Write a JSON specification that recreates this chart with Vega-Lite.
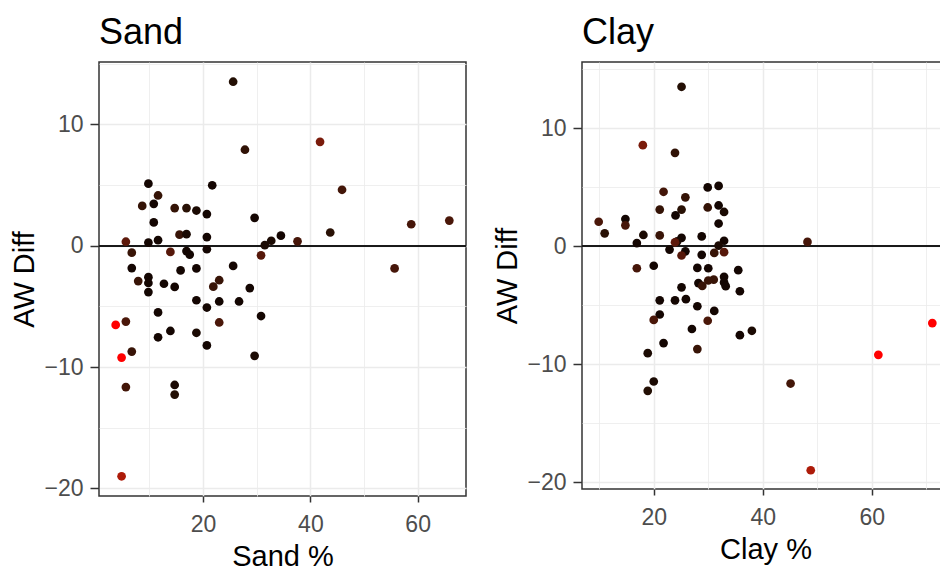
{
  "$schema": "https://vega.github.io/schema/vega-lite/v6.json",
  "padding": {"left": 10, "top": 14, "right": 0, "bottom": 0},
  "spacing": 25,
  "align": "none",
  "data": {"values": [
    {"Sand": 25.6, "Clay": 25.1, "AWDiff": 13.5, "Shade": 0.12},
    {"Sand": 41.8, "Clay": 18.0, "AWDiff": 8.55, "Shade": 0.5},
    {"Sand": 27.8, "Clay": 23.9, "AWDiff": 7.9, "Shade": 0.18},
    {"Sand": 9.8, "Clay": 31.9, "AWDiff": 5.1, "Shade": 0.05},
    {"Sand": 21.7, "Clay": 29.9, "AWDiff": 4.97, "Shade": 0.05},
    {"Sand": 45.9, "Clay": 21.8, "AWDiff": 4.6, "Shade": 0.27},
    {"Sand": 11.6, "Clay": 25.8, "AWDiff": 4.13, "Shade": 0.2},
    {"Sand": 10.8, "Clay": 31.9, "AWDiff": 3.44, "Shade": 0.05},
    {"Sand": 8.65, "Clay": 29.9, "AWDiff": 3.27, "Shade": 0.2},
    {"Sand": 14.7, "Clay": 21.1, "AWDiff": 3.09, "Shade": 0.2},
    {"Sand": 16.9, "Clay": 25.1, "AWDiff": 3.09, "Shade": 0.15},
    {"Sand": 18.75, "Clay": 32.9, "AWDiff": 2.89, "Shade": 0.08},
    {"Sand": 20.7, "Clay": 24.0, "AWDiff": 2.6, "Shade": 0.05},
    {"Sand": 29.6, "Clay": 14.8, "AWDiff": 2.29, "Shade": 0.05},
    {"Sand": 65.9, "Clay": 9.9, "AWDiff": 2.06, "Shade": 0.3},
    {"Sand": 10.8, "Clay": 31.9, "AWDiff": 1.91, "Shade": 0.05},
    {"Sand": 58.8, "Clay": 14.8, "AWDiff": 1.76, "Shade": 0.28},
    {"Sand": 43.7, "Clay": 11.0, "AWDiff": 1.08, "Shade": 0.15},
    {"Sand": 15.6, "Clay": 21.1, "AWDiff": 0.9, "Shade": 0.22},
    {"Sand": 16.9, "Clay": 18.1, "AWDiff": 0.94, "Shade": 0.08},
    {"Sand": 34.5, "Clay": 28.8, "AWDiff": 0.82, "Shade": 0.05},
    {"Sand": 20.7, "Clay": 25.1, "AWDiff": 0.7, "Shade": 0.05},
    {"Sand": 11.6, "Clay": 32.9, "AWDiff": 0.45, "Shade": 0.05},
    {"Sand": 32.7, "Clay": 24.3, "AWDiff": 0.4, "Shade": 0.08},
    {"Sand": 5.6, "Clay": 23.9, "AWDiff": 0.32, "Shade": 0.38},
    {"Sand": 37.6, "Clay": 48.2, "AWDiff": 0.35, "Shade": 0.28},
    {"Sand": 9.8, "Clay": 16.9, "AWDiff": 0.25, "Shade": 0.05},
    {"Sand": 31.5, "Clay": 31.9, "AWDiff": 0.04, "Shade": 0.08},
    {"Sand": 20.7, "Clay": 22.9, "AWDiff": -0.3, "Shade": 0.05},
    {"Sand": 16.9, "Clay": 25.8, "AWDiff": -0.45, "Shade": 0.05},
    {"Sand": 13.9, "Clay": 32.9, "AWDiff": -0.52, "Shade": 0.35},
    {"Sand": 6.7, "Clay": 31.1, "AWDiff": -0.58, "Shade": 0.22},
    {"Sand": 30.8, "Clay": 25.1, "AWDiff": -0.8, "Shade": 0.35},
    {"Sand": 17.5, "Clay": 28.8, "AWDiff": -0.74, "Shade": 0.05},
    {"Sand": 25.6, "Clay": 20.0, "AWDiff": -1.67, "Shade": 0.05},
    {"Sand": 6.7, "Clay": 28.0, "AWDiff": -1.85, "Shade": 0.05},
    {"Sand": 18.75, "Clay": 30.0, "AWDiff": -1.88, "Shade": 0.05},
    {"Sand": 55.7, "Clay": 16.9, "AWDiff": -1.88, "Shade": 0.28},
    {"Sand": 15.8, "Clay": 35.5, "AWDiff": -2.04, "Shade": 0.05},
    {"Sand": 9.8, "Clay": 32.9, "AWDiff": -2.6, "Shade": 0.05},
    {"Sand": 23.0, "Clay": 31.0, "AWDiff": -2.85, "Shade": 0.22},
    {"Sand": 7.9, "Clay": 30.0, "AWDiff": -2.92, "Shade": 0.22},
    {"Sand": 9.8, "Clay": 32.9, "AWDiff": -3.08, "Shade": 0.05},
    {"Sand": 12.7, "Clay": 28.2, "AWDiff": -3.14, "Shade": 0.05},
    {"Sand": 21.9, "Clay": 28.9, "AWDiff": -3.38, "Shade": 0.22},
    {"Sand": 28.7, "Clay": 25.1, "AWDiff": -3.5, "Shade": 0.05},
    {"Sand": 14.7, "Clay": 33.2, "AWDiff": -3.4, "Shade": 0.05},
    {"Sand": 9.8, "Clay": 35.8, "AWDiff": -3.83, "Shade": 0.05},
    {"Sand": 18.75, "Clay": 25.9, "AWDiff": -4.5, "Shade": 0.05},
    {"Sand": 23.0, "Clay": 21.1, "AWDiff": -4.6, "Shade": 0.05},
    {"Sand": 26.7, "Clay": 23.9, "AWDiff": -4.6, "Shade": 0.05},
    {"Sand": 20.7, "Clay": 28.0, "AWDiff": -5.1, "Shade": 0.05},
    {"Sand": 11.6, "Clay": 31.1, "AWDiff": -5.5, "Shade": 0.05},
    {"Sand": 30.8, "Clay": 21.1, "AWDiff": -5.8, "Shade": 0.05},
    {"Sand": 5.6, "Clay": 20.0, "AWDiff": -6.26, "Shade": 0.3},
    {"Sand": 23.0, "Clay": 29.9, "AWDiff": -6.33, "Shade": 0.3},
    {"Sand": 3.7, "Clay": 71.1, "AWDiff": -6.53, "Shade": 1.0},
    {"Sand": 13.9, "Clay": 27.0, "AWDiff": -7.03, "Shade": 0.05},
    {"Sand": 18.75, "Clay": 38.0, "AWDiff": -7.18, "Shade": 0.08},
    {"Sand": 11.6, "Clay": 35.8, "AWDiff": -7.55, "Shade": 0.05},
    {"Sand": 20.7, "Clay": 21.8, "AWDiff": -8.22, "Shade": 0.05},
    {"Sand": 6.7, "Clay": 28.0, "AWDiff": -8.73, "Shade": 0.22},
    {"Sand": 29.6, "Clay": 18.9, "AWDiff": -9.08, "Shade": 0.08},
    {"Sand": 4.8, "Clay": 61.2, "AWDiff": -9.22, "Shade": 1.0},
    {"Sand": 14.7, "Clay": 20.0, "AWDiff": -11.48, "Shade": 0.08},
    {"Sand": 5.6, "Clay": 45.1, "AWDiff": -11.65, "Shade": 0.27},
    {"Sand": 14.7, "Clay": 18.9, "AWDiff": -12.27, "Shade": 0.12},
    {"Sand": 4.8, "Clay": 48.8, "AWDiff": -19.0, "Shade": 0.7}
  ]},
  "hconcat": [
    {
      "width": 367,
      "height": 434,
      "title": {"text": "Sand", "offset": 10, "frame": "group"},
      "layer": [
        {
          "mark": {"type": "rule", "color": "#1a1a1a", "strokeWidth": 1.3},
          "encoding": {"y": {"datum": 0, "type": "quantitative"}}
        },
        {
          "mark": {"type": "circle", "size": 76, "opacity": 1},
          "encoding": {
            "x": {
              "field": "Sand", "type": "quantitative",
              "scale": {"domain": [0.59, 69.01], "nice": false, "zero": false},
              "axis": {
                "title": "Sand %",
                "grid": true,
                "values": [10, 20, 30, 40, 50, 60],
                "labelExpr": "datum.value % 20 == 0 ? datum.label : ''",
                "tickOpacity": {"condition": {"test": "datum.value % 20 != 0", "value": 0}, "value": 1},
                "gridWidth": {"condition": {"test": "datum.value % 20 != 0", "value": 0.8}, "value": 1.5}
              }
            },
            "y": {
              "field": "AWDiff", "type": "quantitative",
              "scale": {"domain": [-20.625, 15.125], "nice": false, "zero": false},
              "axis": {
                "title": "AW Diff",
                "grid": true,
                "values": [-20, -15, -10, -5, 0, 5, 10, 15],
                "labelExpr": "datum.value % 10 == 0 ? datum.label : ''",
                "tickOpacity": {"condition": {"test": "datum.value % 10 != 0", "value": 0}, "value": 1},
                "gridWidth": {"condition": {"test": "datum.value % 10 != 0", "value": 0.8}, "value": 1.5}
              }
            },
            "color": {
              "field": "Shade", "type": "quantitative",
              "scale": {"domain": [0, 1], "range": ["#000000", "#ff0000"], "interpolate": "lab"},
              "legend": null
            }
          }
        }
      ]
    },
    {
      "width": 367,
      "height": 427,
      "title": {"text": "Clay", "offset": 10, "frame": "group"},
      "layer": [
        {
          "mark": {"type": "rule", "color": "#1a1a1a", "strokeWidth": 1.3},
          "encoding": {"y": {"datum": 0, "type": "quantitative"}}
        },
        {
          "mark": {"type": "circle", "size": 76, "opacity": 1},
          "encoding": {
            "x": {
              "field": "Clay", "type": "quantitative",
              "scale": {"domain": [6.84, 74.16], "nice": false, "zero": false},
              "axis": {
                "title": "Clay %",
                "grid": true,
                "values": [10, 20, 30, 40, 50, 60, 70],
                "labelExpr": "datum.value % 20 == 0 ? datum.label : ''",
                "tickOpacity": {"condition": {"test": "datum.value % 20 != 0", "value": 0}, "value": 1},
                "gridWidth": {"condition": {"test": "datum.value % 20 != 0", "value": 0.8}, "value": 1.5}
              }
            },
            "y": {
              "field": "AWDiff", "type": "quantitative",
              "scale": {"domain": [-20.59, 15.6], "nice": false, "zero": false},
              "axis": {
                "title": "AW Diff",
                "grid": true,
                "values": [-20, -15, -10, -5, 0, 5, 10, 15],
                "labelExpr": "datum.value % 10 == 0 ? datum.label : ''",
                "tickOpacity": {"condition": {"test": "datum.value % 10 != 0", "value": 0}, "value": 1},
                "gridWidth": {"condition": {"test": "datum.value % 10 != 0", "value": 0.8}, "value": 1.5}
              }
            },
            "color": {
              "field": "Shade", "type": "quantitative",
              "scale": {"domain": [0, 1], "range": ["#000000", "#ff0000"], "interpolate": "lab"},
              "legend": null
            }
          }
        }
      ]
    }
  ],
  "resolve": {"scale": {"color": "shared"}},
  "config": {
    "font": "Liberation Sans",
    "view": {"stroke": "#333333", "strokeWidth": 1.5},
    "axis": {
      "domain": false,
      "gridColor": "#EBEBEB",
      "tickColor": "#333333",
      "tickWidth": 1.5,
      "labelColor": "#4D4D4D",
      "labelFontSize": 23,
      "labelFont": "Liberation Sans",
      "titleFont": "Liberation Sans",
      "titleFontSize": 29,
      "titleFontWeight": "normal",
      "titleColor": "#000000"
    },
    "axisX": {"tickSize": 6, "labelPadding": 11, "titlePadding": 6},
    "axisY": {"tickSize": 9, "labelPadding": 7, "titlePadding": 4},
    "title": {"fontSize": 36, "fontWeight": "normal", "anchor": "start", "color": "#000000", "font": "Liberation Sans"}
  }
}
